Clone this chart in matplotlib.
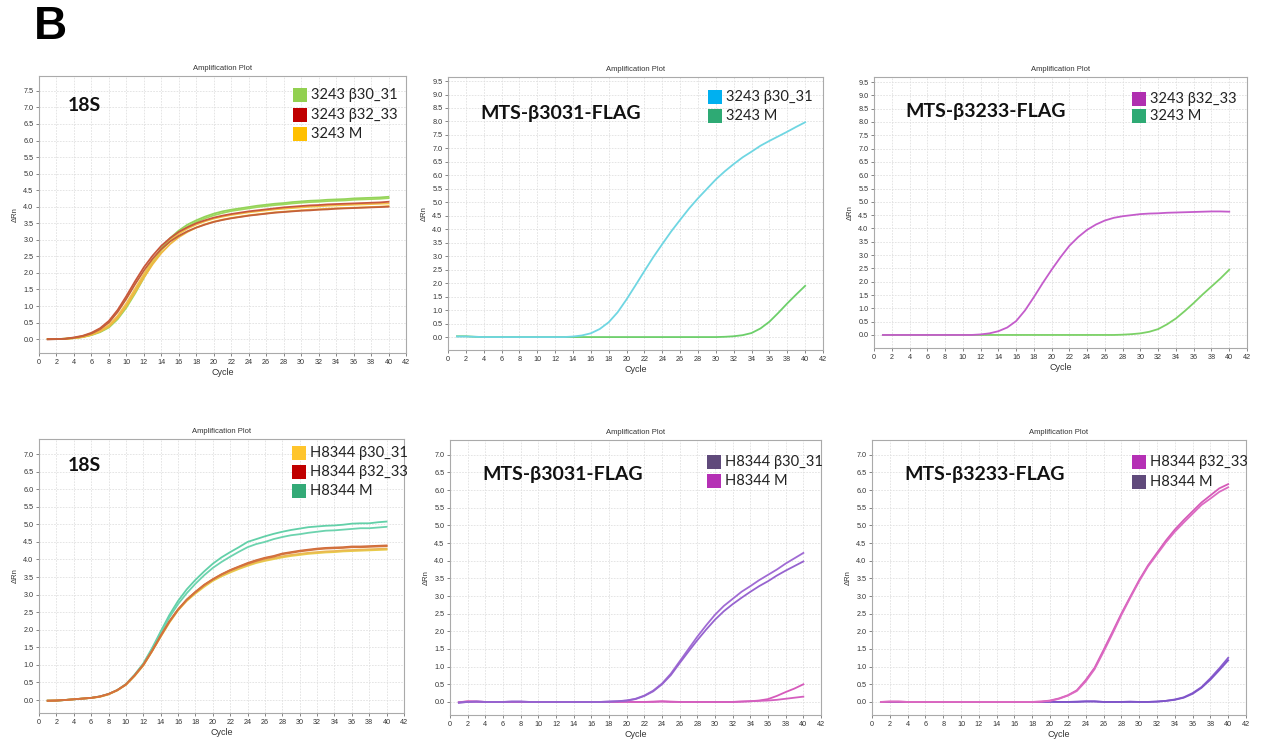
import matplotlib
matplotlib.use("Agg")
import matplotlib.pyplot as plt
from matplotlib.patches import Rectangle
import numpy as np

# ---------------------------------------------------------------- data
cycles = list(range(1, 41))

# 18S, 3243 lines (two replicate wells per sample)
s18_3243_b3031_a = [0.00, 0.00, 0.01, 0.03, 0.07, 0.13, 0.23, 0.38, 0.65, 1.02,
                    1.47, 1.93, 2.37, 2.75, 3.05, 3.28, 3.46, 3.59, 3.70, 3.79,
                    3.86, 3.91, 3.95, 3.99, 4.03, 4.06, 4.09, 4.11, 4.14, 4.16,
                    4.18, 4.19, 4.21, 4.22, 4.23, 4.25, 4.26, 4.27, 4.28, 4.30]
s18_3243_b3031_b = [0.00, 0.00, 0.01, 0.03, 0.06, 0.12, 0.21, 0.35, 0.60, 0.95,
                    1.38, 1.85, 2.30, 2.68, 2.98, 3.22, 3.40, 3.54, 3.65, 3.74,
                    3.81, 3.87, 3.91, 3.95, 3.99, 4.02, 4.05, 4.07, 4.10, 4.12,
                    4.14, 4.15, 4.17, 4.18, 4.19, 4.21, 4.22, 4.23, 4.24, 4.26]
s18_3243_b3233_a = [0.00, 0.00, 0.01, 0.05, 0.10, 0.19, 0.33, 0.55, 0.88, 1.30,
                    1.75, 2.17, 2.52, 2.82, 3.05, 3.24, 3.38, 3.50, 3.59, 3.67,
                    3.73, 3.78, 3.82, 3.86, 3.89, 3.92, 3.95, 3.98, 4.00, 4.02,
                    4.04, 4.05, 4.07, 4.08, 4.09, 4.10, 4.11, 4.12, 4.13, 4.15]
s18_3243_b3233_b = [-0.01, 0.00, 0.01, 0.04, 0.09, 0.17, 0.30, 0.50, 0.82, 1.22,
                    1.66, 2.07, 2.43, 2.72, 2.95, 3.12, 3.26, 3.37, 3.46, 3.54,
                    3.60, 3.65, 3.69, 3.73, 3.76, 3.79, 3.82, 3.84, 3.86, 3.88,
                    3.89, 3.91, 3.92, 3.94, 3.95, 3.96, 3.97, 3.98, 3.99, 4.00]
s18_3243_m_a = [0.00, 0.00, 0.01, 0.03, 0.07, 0.14, 0.25, 0.42, 0.70, 1.08,
                1.52, 1.96, 2.36, 2.70, 2.97, 3.18, 3.34, 3.46, 3.56, 3.64,
                3.70, 3.75, 3.79, 3.83, 3.86, 3.89, 3.92, 3.94, 3.96, 3.98,
                4.00, 4.01, 4.03, 4.04, 4.05, 4.06, 4.07, 4.08, 4.09, 4.10]
s18_3243_m_b = [0.00, 0.00, 0.01, 0.03, 0.06, 0.13, 0.23, 0.38, 0.64, 1.00,
                1.42, 1.86, 2.26, 2.60, 2.87, 3.08, 3.24, 3.37, 3.47, 3.55,
                3.61, 3.66, 3.70, 3.74, 3.77, 3.80, 3.83, 3.85, 3.87, 3.89,
                3.91, 3.92, 3.94, 3.95, 3.96, 3.97, 3.98, 3.99, 4.00, 4.02]

# MTS-b3031-FLAG, 3243 lines
f3031_3243_b3031 = [0.02, 0.02, 0.01, 0.00, 0.00, 0.00, 0.00, 0.00, 0.00, 0.00,
                    0.00, 0.00, 0.00, 0.02, 0.06, 0.14, 0.30, 0.55, 0.92, 1.40,
                    1.92, 2.45, 2.97, 3.45, 3.92, 4.35, 4.77, 5.15, 5.50, 5.85,
                    6.15, 6.42, 6.67, 6.88, 7.10, 7.28, 7.45, 7.62, 7.80, 7.97]
f3031_3243_m = [0.03, 0.03, 0.01, 0.00, 0.00, 0.00, 0.00, 0.00, 0.00, 0.00,
                0.00, 0.00, 0.00, 0.00, 0.00, 0.00, 0.00, 0.00, 0.00, 0.00,
                0.00, 0.00, 0.00, 0.00, 0.00, 0.00, 0.00, 0.00, 0.00, 0.00,
                0.01, 0.03, 0.07, 0.15, 0.32, 0.57, 0.90, 1.25, 1.58, 1.90]

# MTS-b3233-FLAG, 3243 lines
f3233_3243_b3233 = [0.00, 0.00, 0.00, 0.00, 0.00, 0.00, 0.00, 0.00, 0.00, 0.00,
                    0.00, 0.02, 0.06, 0.14, 0.28, 0.52, 0.92, 1.42, 1.95, 2.45,
                    2.92, 3.35, 3.68, 3.95, 4.15, 4.30, 4.40, 4.46, 4.50, 4.54,
                    4.56, 4.57, 4.59, 4.60, 4.61, 4.62, 4.63, 4.64, 4.64, 4.63]
f3233_3243_m = [0.00, 0.00, 0.00, 0.00, 0.00, 0.00, 0.00, 0.00, 0.00, 0.00,
                0.00, 0.00, 0.00, 0.00, 0.00, 0.00, 0.00, 0.00, 0.00, 0.00,
                0.00, 0.00, 0.00, 0.00, 0.00, 0.00, 0.00, 0.01, 0.03, 0.06,
                0.12, 0.22, 0.40, 0.62, 0.90, 1.20, 1.52, 1.82, 2.12, 2.45]

# 18S, H8344 lines
s18_h8344_b3031_a = [-0.02, -0.02, 0.00, 0.02, 0.04, 0.06, 0.09, 0.16, 0.27, 0.43,
                     0.68, 0.98, 1.38, 1.80, 2.20, 2.55, 2.82, 3.03, 3.22, 3.39,
                     3.52, 3.63, 3.73, 3.82, 3.90, 3.96, 4.01, 4.06, 4.10, 4.13,
                     4.16, 4.18, 4.20, 4.21, 4.23, 4.24, 4.25, 4.26, 4.27, 4.28]
s18_h8344_b3031_b = [-0.02, -0.01, 0.00, 0.02, 0.04, 0.06, 0.09, 0.16, 0.28, 0.44,
                     0.69, 0.99, 1.39, 1.81, 2.22, 2.57, 2.84, 3.06, 3.25, 3.42,
                     3.55, 3.66, 3.76, 3.85, 3.93, 3.99, 4.04, 4.09, 4.13, 4.16,
                     4.19, 4.21, 4.23, 4.24, 4.26, 4.27, 4.28, 4.29, 4.30, 4.31]
s18_h8344_b3233_a = [-0.02, -0.02, 0.00, 0.02, 0.04, 0.06, 0.10, 0.17, 0.28, 0.44,
                     0.70, 1.00, 1.40, 1.83, 2.24, 2.58, 2.86, 3.08, 3.28, 3.44,
                     3.58, 3.70, 3.80, 3.90, 3.98, 4.05, 4.10, 4.17, 4.21, 4.25,
                     4.28, 4.31, 4.33, 4.34, 4.35, 4.37, 4.37, 4.38, 4.39, 4.40]
s18_h8344_b3233_b = [-0.02, -0.01, 0.00, 0.02, 0.04, 0.06, 0.10, 0.17, 0.28, 0.44,
                     0.70, 1.00, 1.39, 1.82, 2.23, 2.57, 2.85, 3.07, 3.27, 3.43,
                     3.57, 3.69, 3.79, 3.88, 3.96, 4.03, 4.08, 4.15, 4.19, 4.23,
                     4.26, 4.29, 4.31, 4.32, 4.33, 4.35, 4.35, 4.36, 4.37, 4.38]
s18_h8344_m_a = [-0.02, -0.02, 0.00, 0.02, 0.04, 0.06, 0.10, 0.17, 0.28, 0.45,
                 0.72, 1.04, 1.47, 1.95, 2.42, 2.82, 3.15, 3.42, 3.66, 3.88,
                 4.06, 4.21, 4.35, 4.50, 4.58, 4.66, 4.73, 4.79, 4.84, 4.88,
                 4.92, 4.94, 4.96, 4.97, 4.99, 5.02, 5.03, 5.03, 5.06, 5.08]
s18_h8344_m_b = [-0.02, -0.02, 0.00, 0.02, 0.04, 0.06, 0.10, 0.17, 0.28, 0.45,
                 0.71, 1.02, 1.44, 1.90, 2.35, 2.73, 3.04, 3.31, 3.55, 3.76,
                 3.93, 4.08, 4.22, 4.35, 4.44, 4.50, 4.58, 4.64, 4.69, 4.72,
                 4.76, 4.79, 4.82, 4.83, 4.85, 4.87, 4.89, 4.89, 4.91, 4.93]

# MTS-b3031-FLAG, H8344 lines
f3031_h8344_b3031_a = [-0.02, 0.00, 0.01, 0.00, 0.00, 0.00, 0.01, 0.01, 0.00, 0.00,
                       0.00, 0.00, 0.00, 0.00, 0.00, 0.00, 0.00, 0.01, 0.02, 0.04,
                       0.09, 0.18, 0.32, 0.52, 0.80, 1.15, 1.50, 1.85, 2.17, 2.47,
                       2.72, 2.92, 3.12, 3.28, 3.45, 3.60, 3.75, 3.92, 4.07, 4.22]
f3031_h8344_b3031_b = [-0.02, 0.00, 0.01, 0.00, 0.00, 0.00, 0.01, 0.01, 0.00, 0.00,
                       0.00, 0.00, 0.00, 0.00, 0.00, 0.00, 0.00, 0.01, 0.02, 0.04,
                       0.08, 0.17, 0.30, 0.50, 0.76, 1.10, 1.43, 1.75, 2.05, 2.33,
                       2.57, 2.77, 2.95, 3.12, 3.28, 3.42, 3.58, 3.72, 3.85, 3.98]
f3031_h8344_m_a = [-0.01, 0.02, 0.01, 0.00, 0.00, 0.00, 0.00, 0.00, 0.00, 0.00,
                   0.00, 0.00, 0.00, 0.00, 0.00, 0.00, 0.00, 0.00, 0.00, 0.01,
                   0.00, 0.00, 0.01, 0.02, 0.01, 0.00, 0.00, 0.00, 0.00, 0.00,
                   0.00, 0.00, 0.01, 0.02, 0.04, 0.08, 0.17, 0.28, 0.38, 0.50]
f3031_h8344_m_b = [-0.01, 0.01, 0.01, 0.00, 0.00, 0.00, 0.00, 0.00, 0.00, 0.00,
                   0.00, 0.00, 0.00, 0.00, 0.00, 0.00, 0.00, 0.00, 0.00, 0.00,
                   0.00, 0.00, 0.00, 0.01, 0.00, 0.00, 0.00, 0.00, 0.00, 0.00,
                   0.00, 0.00, 0.01, 0.02, 0.03, 0.04, 0.06, 0.09, 0.12, 0.15]

# MTS-b3233-FLAG, H8344 lines
f3233_h8344_b3233_a = [0.00, 0.01, 0.01, 0.00, 0.00, 0.00, 0.00, 0.00, 0.00, 0.00,
                       0.00, 0.00, 0.00, 0.00, 0.00, 0.00, 0.00, 0.00, 0.01, 0.04,
                       0.10, 0.19, 0.33, 0.62, 0.97, 1.47, 1.98, 2.50, 2.98, 3.45,
                       3.87, 4.22, 4.57, 4.88, 5.15, 5.40, 5.65, 5.85, 6.05, 6.17]
f3233_h8344_b3233_b = [0.00, 0.01, 0.01, 0.00, 0.00, 0.00, 0.00, 0.00, 0.00, 0.00,
                       0.00, 0.00, 0.00, 0.00, 0.00, 0.00, 0.00, 0.00, 0.01, 0.03,
                       0.09, 0.18, 0.31, 0.58, 0.93, 1.42, 1.93, 2.46, 2.95, 3.42,
                       3.84, 4.18, 4.52, 4.82, 5.08, 5.33, 5.58, 5.76, 5.95, 6.08]
f3233_h8344_m_a = [0.00, 0.00, 0.00, 0.00, 0.00, 0.00, 0.00, 0.00, 0.00, 0.00,
                   0.00, 0.00, 0.00, 0.00, 0.00, 0.00, 0.00, 0.00, 0.00, 0.01,
                   0.00, 0.00, 0.01, 0.02, 0.02, 0.00, 0.00, 0.00, 0.01, 0.00,
                   0.00, 0.01, 0.03, 0.07, 0.13, 0.25, 0.42, 0.67, 0.95, 1.25]
f3233_h8344_m_b = [0.00, 0.00, 0.00, 0.00, 0.00, 0.00, 0.00, 0.00, 0.00, 0.00,
                   0.00, 0.00, 0.00, 0.00, 0.00, 0.00, 0.00, 0.00, 0.00, 0.00,
                   0.00, 0.00, 0.00, 0.01, 0.01, 0.00, 0.00, 0.00, 0.00, 0.00,
                   0.00, 0.01, 0.03, 0.06, 0.12, 0.23, 0.40, 0.63, 0.90, 1.18]

panel_titles = ["18S", "MTS-β3031-FLAG", "MTS-β3233-FLAG",
                "18S", "MTS-β3031-FLAG", "MTS-β3233-FLAG"]
legend_labels = [
    ["3243 β30_31", "3243 β32_33", "3243 M"],
    ["3243 β30_31", "3243 M"],
    ["3243 β32_33", "3243 M"],
    ["H8344 β30_31", "H8344 β32_33", "H8344 M"],
    ["H8344 β30_31", "H8344 M"],
    ["H8344 β32_33", "H8344 M"],
]
y_tick_tops = [7.5, 9.5, 9.5, 7.0, 7.0, 7.0]
x_ticks = list(range(0, 43, 2))

# ---------------------------------------------------------------- styling
W, H = 1261, 740
fig = plt.figure(figsize=(W / 100, H / 100), dpi=100)
fig.patch.set_facecolor("white")

LBL_FONT = ["Lato", "DejaVu Sans"]
SMALL_FONT = ["Liberation Sans", "DejaVu Sans"]

# frame boxes in pixels: (left, top, right, bottom), with y-limits
panels = [
    dict(box=(39, 76, 406, 353), ylim=(-0.42, 7.95)),
    dict(box=(448, 77, 823, 350), ylim=(-0.48, 9.65)),
    dict(box=(874, 77, 1247, 348), ylim=(-0.49, 9.69)),
    dict(box=(39, 439, 404, 713), ylim=(-0.37, 7.43)),
    dict(box=(450, 440, 821, 715), ylim=(-0.37, 7.42)),
    dict(box=(872, 440, 1246, 715), ylim=(-0.37, 7.42)),
]

series = [
    [(s18_3243_b3031_a, "#93d35a"), (s18_3243_b3031_b, "#9dd85e"),
     (s18_3243_m_a, "#f3c04a"), (s18_3243_m_b, "#f0b840"),
     (s18_3243_b3233_a, "#c9573c"), (s18_3243_b3233_b, "#c4603a")],
    [(f3031_3243_m, "#6ccf6a"), (f3031_3243_b3031, "#6fd6e2")],
    [(f3233_3243_m, "#7bd166"), (f3233_3243_b3233, "#c45ccb")],
    [(s18_h8344_m_a, "#62d0a8"), (s18_h8344_m_b, "#6cd3ae"),
     (s18_h8344_b3031_a, "#e8cc4a"), (s18_h8344_b3031_b, "#eab852"),
     (s18_h8344_b3233_a, "#d06a3a"), (s18_h8344_b3233_b, "#d4733e")],
    [(f3031_h8344_m_a, "#d65abb"), (f3031_h8344_m_b, "#d45fbf"),
     (f3031_h8344_b3031_a, "#a06bd4"), (f3031_h8344_b3031_b, "#9663cf")],
    [(f3233_h8344_m_a, "#8a5cd0"), (f3233_h8344_m_b, "#7f55c9"),
     (f3233_h8344_b3233_a, "#d55bb8"), (f3233_h8344_b3233_b, "#dc6ac2")],
]

legend_colors = [
    ["#92d050", "#c00000", "#ffc000"],
    ["#00b0f0", "#2eaa74"],
    ["#b02fb0", "#2eaa74"],
    ["#ffc52c", "#c00000", "#33aa77"],
    ["#604a7b", "#b530b5"],
    ["#b530b5", "#604a7b"],
]

# title text placement (axes fraction) and legend placement
title_pos = [(0.079, 0.895), (0.085, 0.868), (0.083, 0.871),
             (0.079, 0.905), (0.086, 0.873), (0.086, 0.873)]
legend_pos = [(0.692, [0.931, 0.859, 0.791]),
              (0.693, [0.927, 0.857]),
              (0.692, [0.919, 0.856]),
              (0.692, [0.949, 0.880, 0.810]),
              (0.693, [0.920, 0.851]),
              (0.695, [0.920, 0.847])]

for i, p in enumerate(panels):
    l, t, r, b = p["box"]
    ax = fig.add_axes([l / W, (H - b) / H, (r - l) / W, (b - t) / H])
    ax.set_xlim(0, 42)
    ax.set_ylim(*p["ylim"])
    ax.set_xticks(x_ticks)
    ax.set_yticks(np.arange(0, y_tick_tops[i] + 0.01, 0.5))
    ax.yaxis.set_major_formatter(matplotlib.ticker.FormatStrFormatter("%.1f"))
    ax.tick_params(labelsize=5.2, colors="#555555", length=2, width=0.5,
                   pad=2)
    for lab in ax.get_xticklabels() + ax.get_yticklabels():
        lab.set_family(SMALL_FONT)
        lab.set_color("#333333")
    ax.grid(True, color="#e0e0e0", linestyle=(0, (2, 1.5)), linewidth=0.6)
    ax.set_axisbelow(True)
    for s in ax.spines.values():
        s.set_color("#aaaaaa")
        s.set_linewidth(0.8)

    for vals, col in series[i]:
        ax.plot(cycles, vals, color=col, lw=1.3, solid_joinstyle="round")

    ax.set_title("Amplification Plot", fontsize=5.5, family=SMALL_FONT,
                 color="#333333", pad=4)
    ax.set_xlabel("Cycle", fontsize=6.5, family=SMALL_FONT, color="#333333",
                  labelpad=2)
    ax.set_ylabel("ΔRn", fontsize=5.5, family=SMALL_FONT, color="#333333",
                  labelpad=3)

    tx, ty = title_pos[i]
    ax.text(tx, ty, panel_titles[i], transform=ax.transAxes, ha="left",
            va="center", fontsize=14, fontweight="bold", family=LBL_FONT,
            color="#111111")

    # legend: coloured squares with labels
    ax_w = r - l
    ax_h = b - t
    sq = 14.0
    lx, rows = legend_pos[i]
    for lab, col, ry in zip(legend_labels[i], legend_colors[i], rows):
        ax.add_patch(Rectangle((lx, ry - sq / ax_h / 2), sq / ax_w, sq / ax_h,
                               transform=ax.transAxes, facecolor=col,
                               edgecolor="none", clip_on=False))
        ax.text(lx + (sq + 4) / ax_w, ry, lab, transform=ax.transAxes,
                ha="left", va="center", fontsize=10.5, family=LBL_FONT,
                color="#222222")

fig.text(50 / W, 1 - 27 / H, "B", ha="center", va="center", fontsize=33,
         fontweight="bold", family=["Liberation Sans", "DejaVu Sans"])

fig.savefig("out.png", dpi=100, facecolor="white")
